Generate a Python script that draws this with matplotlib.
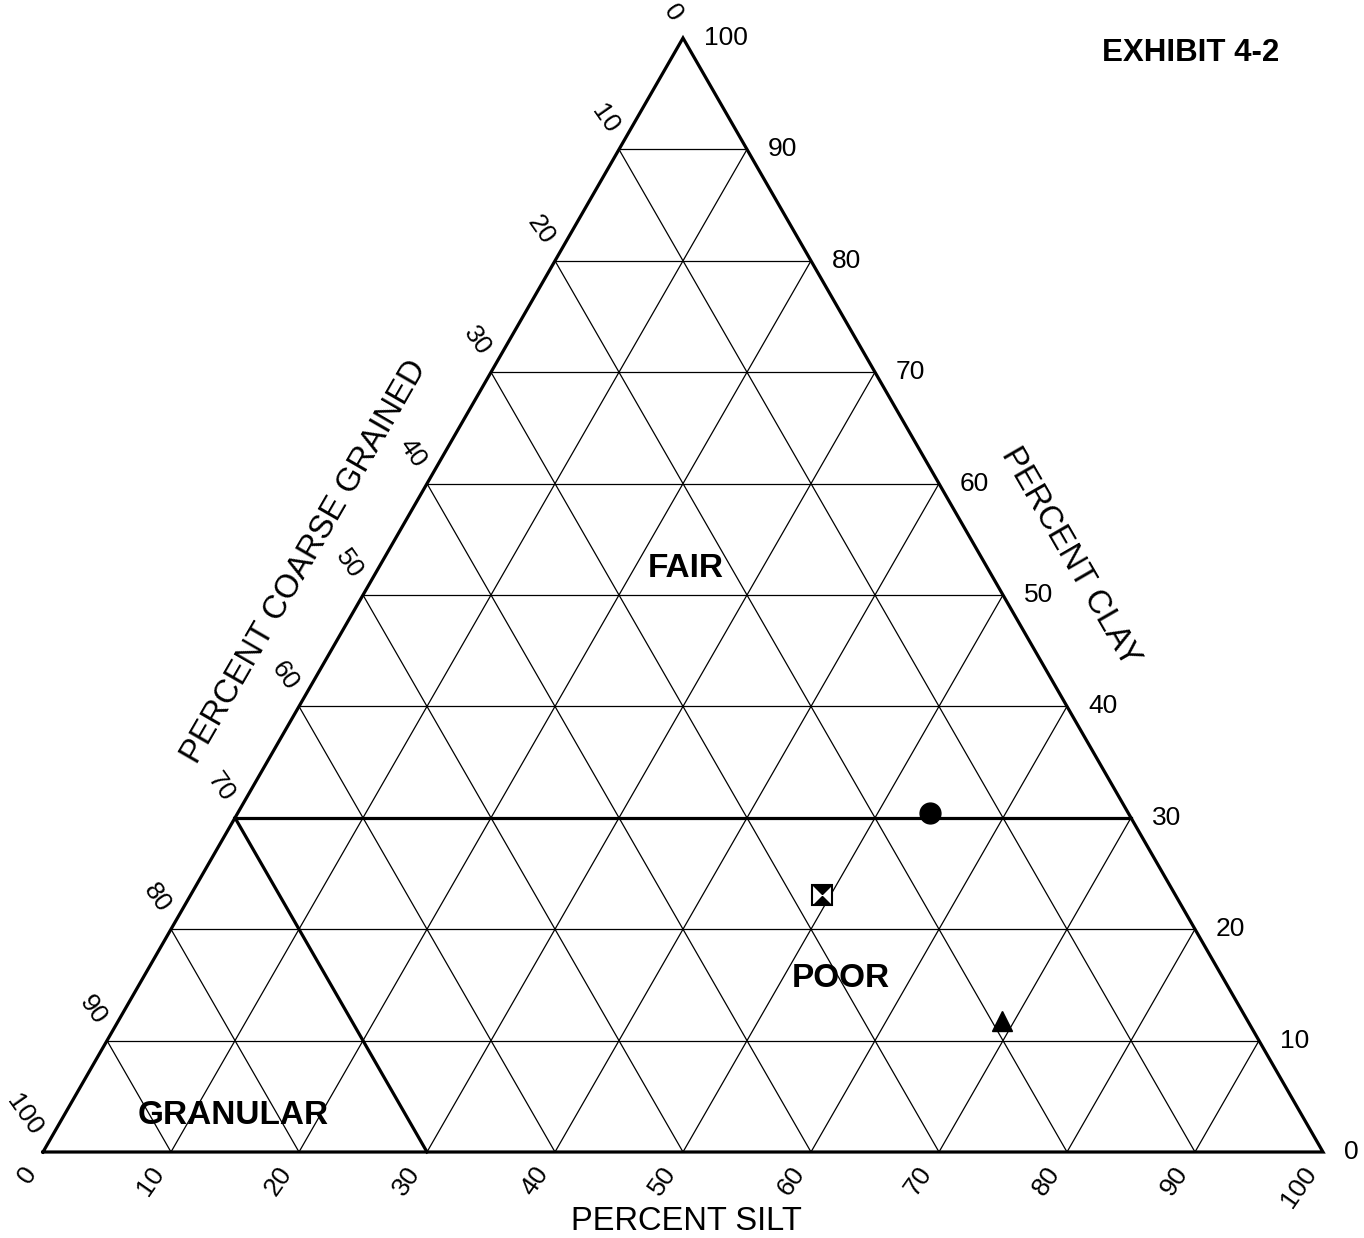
import matplotlib.pyplot as plt

plt.rcParams['font.family'] = ['Liberation Sans', 'DejaVu Sans']

# ternary data: (silt %, clay %) ; coarse = 100 - silt - clay
ticks = [0, 10, 20, 30, 40, 50, 60, 70, 80, 90, 100]
circle_pt = (54.1, 30.4)
hourglass_pt = (49.3, 23.1)
triangle_pt = (69.0, 11.8)
zones = ['FAIR', 'POOR', 'GRANULAR']
zone_pos = [(24.0, 52.4), (54.5, 15.6), (13.2, 3.3)]  # (silt, clay)


def tern(silt, clay):
    # silt along bottom, clay is the height
    return silt + clay / 2.0, clay


fig = plt.figure(figsize=(13.64, 12.38), dpi=100)
ax = fig.add_axes([0, 0, 1, 1])
ax.set_xlim(-43 / 12.8, (1364 - 43) / 12.8)
ax.set_ylim(-(1238 - 1152) / 11.14, 1152 / 11.14)
ax.axis('off')

thin = dict(color='black', lw=0.9)
thick = dict(color='black', lw=2.3)

# grid
for k in ticks[1:-1]:
    # constant clay
    a, b = tern(0, k), tern(100 - k, k)
    ax.plot([a[0], b[0]], [a[1], b[1]], **thin)
    # constant silt
    a, b = tern(k, 0), tern(k, 100 - k)
    ax.plot([a[0], b[0]], [a[1], b[1]], **thin)
    # constant coarse
    a, b = tern(0, 100 - k), tern(100 - k, 0)
    ax.plot([a[0], b[0]], [a[1], b[1]], **thin)

# outline
corners = [tern(0, 0), tern(100, 0), tern(0, 100), tern(0, 0)]
ax.plot([c[0] for c in corners], [c[1] for c in corners], solid_joinstyle='miter', **thick)

# zone boundaries
a, b = tern(0, 30), tern(70, 30)
ax.plot([a[0], b[0]], [a[1], b[1]], **thick)
a, b = tern(0, 30), tern(30, 0)
ax.plot([a[0], b[0]], [a[1], b[1]], **thick)

# tick labels
dx, dy = 1 / 12.8, 1 / 11.14  # one pixel in data units
for k in ticks:
    # clay (right side)
    x, y = tern(100 - k, k)
    ax.text(x + 21 * dx, y, str(k), ha='left', va='center', fontsize=19)
    # silt (bottom)
    x, y = tern(k, 0)
    ax.text(x - 2 * dx, y - 10 * dy, str(k), ha='right', va='top', rotation=55, fontsize=19)
    # coarse grained (left side)
    x, y = tern(0, 100 - k)
    ax.text(x + 4 * dx, y + 12 * dy, str(k), ha='right', va='bottom', rotation=-55, fontsize=19)

# axis titles
ax.text((686 - 43) * dx, (1152 - 1222) * dy, 'PERCENT SILT', ha='center', va='center', fontsize=23.5)
ax.text((1070 - 43) * dx, (1152 - 557) * dy, 'PERCENT CLAY', ha='center', va='center',
        rotation=-60, fontsize=23.5)
ax.text((305 - 43) * dx, (1152 - 562) * dy, 'PERCENT COARSE GRAINED', ha='center', va='center',
        rotation=60, fontsize=23.5)

# zone names
for name, (s, c) in zip(zones, zone_pos):
    x, y = tern(s, c)
    ax.text(x, y, name, ha='center', va='center', fontsize=24, fontweight='bold')

ax.text((1191 - 43) * dx, (1152 - 53) * dy, 'EXHIBIT 4-2', ha='center', va='center',
        fontsize=22.5, fontweight='bold')

# sample points
x, y = tern(*circle_pt)
ax.plot(x, y, 'o', color='black', markersize=15, zorder=5)
x, y = tern(*triangle_pt)
ax.plot(x, y, '^', color='black', markersize=14, zorder=5)
x, y = tern(*hourglass_pt)
ax.plot(x, y, 's', markerfacecolor='white', markeredgecolor='black', markeredgewidth=1.5,
        markersize=14, zorder=5)
ax.plot(x, y, marker=[(-1, 1), (1, 1), (-1, -1), (1, -1)], color='black', markersize=14,
        markeredgewidth=0, zorder=6)

fig.savefig('out.png', dpi=100)
